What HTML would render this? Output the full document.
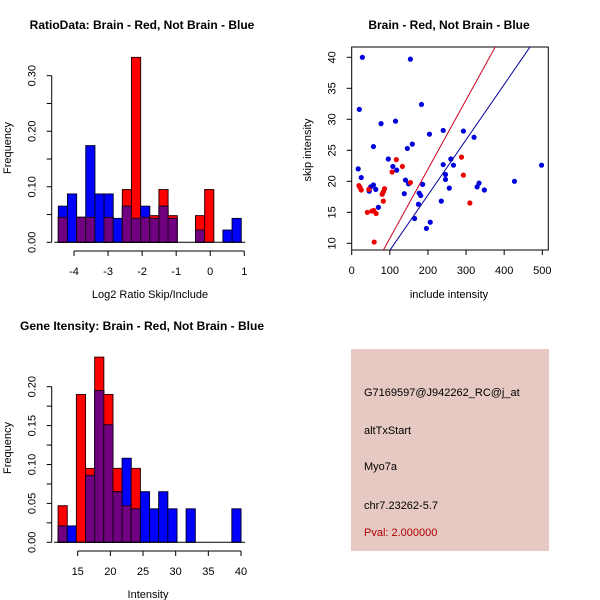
<!DOCTYPE html>
<html><head><meta charset="utf-8"><style>
body{margin:0;background:#fff;width:600px;height:600px;overflow:hidden}
svg{font-family:"Liberation Sans",sans-serif;display:block}
</style></head><body>
<svg id="s" width="600" height="600" viewBox="0 0 600 600">
<rect x="351" y="349" width="198" height="202" fill="#e6c9c3"/>
<g font-size="11">
<text x="364" y="396">G7169597@J942262_RC@j_at</text>
<text x="364" y="434">altTxStart</text>
<text x="364" y="470">Myo7a</text>
<text x="364" y="509">chr7.23262-5.7</text>
<text x="364" y="536" fill="#b00000">Pval: 2.000000</text>
</g>
</svg>
<script>
// Ratio histogram data
const ratioStart=-4.46, ratioWidth=0.2685;
const ratioRed=[0.045,0,0.045,0.045,0,0.045,0,0.095,0.333,0.045,0.048,0.095,0.048,0,0,0.048,0.095,0,0,0];
const ratioBlue=[0.065,0.087,0.045,0.174,0.087,0.087,0.043,0.065,0.043,0.065,0.043,0.065,0.043,0,0,0.022,0,0,0.022,0.043];
const ratioXTicks=[-4,-3,-2,-1,0,1];
const ratioYTicks=["0.00","0.10","0.20","0.30"];
// Intensity histogram data
const intStart=12, intWidth=1.4;
const intRed=[0.047,0,0.19,0.095,0.238,0.19,0.095,0.047,0.095,0,0,0,0,0,0,0,0,0,0,0];
const intBlue=[0.021,0.021,0,0.086,0.195,0.151,0.065,0.108,0.043,0.065,0.043,0.065,0.043,0,0.043,0,0,0,0,0.043];
const intXTicks=[15,20,25,30,35,40];
const intYTicks=["0.00","0.05","0.10","0.15","0.20"];
// Scatter data
const blueX=[28,154,20,183,77,115,240,293,204,321,57,159,146,96,260,17,108,118,240,267,498,25,141,246,246,427,149,186,334,329,256,348,57,50,63,46,138,177,181,235,175,70,165,206,196];
const blueY=[40,39.7,31.6,32.4,29.3,29.7,28.2,28.1,27.6,27.1,25.6,26,25.3,23.6,23.6,22,22.4,21.8,22.7,22.6,22.6,20.6,20.2,21.1,20.3,20,19.6,19.5,19.7,19.1,18.9,18.6,19.4,19.1,18.7,18.4,18,18.1,17.7,16.8,16.3,15.8,14,13.4,12.4];
const redX=[19,22,25,45,86,83,80,83,117,133,106,154,288,293,310,41,53,58,64,59];
const redY=[19.3,19,18.6,18.7,18.8,18.3,17.9,16.8,23.5,22.4,21.5,19.8,23.9,21,16.5,15,15.2,15.3,14.8,10.2];
const redLine=[-0.36,0.1116];
const blueLine=[-0.06,0.0892];
const scXTicks=[0,100,200,300,400,500];
const scYTicks=[10,15,20,25,30,35,40];

const S=document.getElementById('s'),NS='http://www.w3.org/2000/svg';
function mk(t,a,txt){const e=document.createElementNS(NS,t);for(const k in a)e.setAttribute(k,a[k]);if(txt!==undefined)e.textContent=txt;S.appendChild(e);return e;}
function title(x,y,t){const e=mk('text',{x:x,y:y,'font-size':12,'font-weight':'bold','text-anchor':'middle'},t);

}
function label(x,y,t,rot){const e=mk('text',{x:x,y:y,'font-size':11,'text-anchor':'middle',transform:rot?`rotate(-90 ${x} ${y})`:''},t);

}

function hist(start,w,red,blue,xs,ys,yMax,yTop,yBot,xa,xb,xvA,xvB,yAxisX,xAxisY){
  const X=v=>xa+(v-xvA)*(xb-xa)/(xvB-xvA);
  const Y=v=>yBot-v*(yBot-yTop)/yMax;
  for(let i=0;i<red.length;i++){
    const x0=X(start+i*w),x1=X(start+(i+1)*w),r=red[i],b=blue[i];
    if(r>0){const e=mk('rect',{x:x0,y:Y(r),width:x1-x0,height:Y(0)-Y(r),fill:'#ff0000',stroke:'#300','stroke-width':1});
      
      }
    if(b>0){const e=mk('rect',{x:x0,y:Y(b),width:x1-x0,height:Y(0)-Y(b),fill:'#0000ff',stroke:'#000030','stroke-width':1});
      
      }
    const m=Math.min(r,b);
    if(m>0){const e=mk('rect',{x:x0,y:Y(m),width:x1-x0,height:Y(0)-Y(m),fill:'#700080',stroke:'#200020','stroke-width':1});
      
      }
  }
  const base=mk('line',{x1:X(start)-4,x2:X(start+red.length*w)+4,y1:Y(0),y2:Y(0),stroke:'#000'});
  
  
  const ax=mk('line',{x1:X(xs[0]),x2:X(xs[xs.length-1]),y1:xAxisY,y2:xAxisY,stroke:'#000'});
  
  
  xs.forEach(v=>{mk('line',{x1:X(v),x2:X(v),y1:xAxisY,y2:xAxisY+5,stroke:'#000'});
    const t=mk('text',{x:X(v),y:xAxisY+24,'font-size':11,'text-anchor':'middle'},String(v));
    
    });
  const ay=mk('line',{x1:yAxisX,x2:yAxisX,y1:Y(0),y2:Y(parseFloat(ys[ys.length-1])),stroke:'#000'});
  
  
  ys.forEach(s=>{const v=parseFloat(s),y=Y(v);mk('line',{x1:yAxisX-5,x2:yAxisX,y1:y,y2:y,stroke:'#000'});
    const t=mk('text',{x:yAxisX-16,y:y,'font-size':11,'text-anchor':'middle',transform:`rotate(-90 ${yAxisX-16} ${y})`},s);
    
    });
  for(let i=0;i<ys.length-1;i++){const v=(parseFloat(ys[i])+parseFloat(ys[i+1]))/2;mk('line',{x1:yAxisX-5,x2:yAxisX,y1:Y(v),y2:Y(v),stroke:'#000'});}
}
title(142,29,'RatioData: Brain - Red, Not Brain - Blue');
hist(ratioStart,ratioWidth,ratioRed,ratioBlue,ratioXTicks,ratioYTicks,0.30,75.7,242.3,74,244.3,-4,1,51.7,251);
label(150,298,'Log2 Ratio Skip/Include');
label(11,148,'Frequency',true);

title(142,330,'Gene Itensity: Brain - Red, Not Brain - Blue');
hist(intStart,intWidth,intRed,intBlue,intXTicks,intYTicks,0.20,386.7,542.3,77.7,241,15,40,51.7,551);
label(148,598,'Intensity');
label(11,448,'Frequency',true);

// scatter
title(449,29,'Brain - Red, Not Brain - Blue');
const bx0=351.7,bx1=548.3,by0=47,by1=250;
const SX=v=>351.7+v*(542.3-351.7)/500, SY=v=>243.3-(v-10)*(243.3-57.3)/30;
const box=mk('rect',{x:bx0,y:by0,width:bx1-bx0,height:by1-by0,fill:'none',stroke:'#000'});


const cp=mk('clipPath',{id:'cp'});
const cr=document.createElementNS(NS,'rect');cp.appendChild(cr);
cr.setAttribute('x',bx0);cr.setAttribute('y',by0);cr.setAttribute('width',bx1-bx0);cr.setAttribute('height',by1-by0);
blueX.forEach((v,i)=>{const c=mk('circle',{cx:SX(v),cy:SY(blueY[i]),r:2.6,fill:'#0000dd'});
  
  });
redX.forEach((v,i)=>{const c=mk('circle',{cx:SX(v),cy:SY(redY[i]),r:2.6,fill:'#ee0000'});
  
  });
[[redLine,'#cc0022','fit-line-brain'],[blueLine,'#000099','fit-line-not-brain']].forEach(([l,c,n])=>{
  const e=mk('line',{x1:SX(0),y1:SY(l[0]),x2:SX(600),y2:SY(l[0]+l[1]*600),stroke:c,'stroke-width':1,'clip-path':'url(#cp)'});
  
  });
scXTicks.forEach(v=>{mk('line',{x1:SX(v),x2:SX(v),y1:by1,y2:by1+5,stroke:'#000'});
  const t=mk('text',{x:SX(v),y:by1+24,'font-size':11,'text-anchor':'middle'},v);
  
  });
scYTicks.forEach(v=>{const y=SY(v);mk('line',{x1:bx0-5,x2:bx0,y1:y,y2:y,stroke:'#000'});
  const t=mk('text',{x:bx0-16,y:y,'font-size':11,'text-anchor':'middle',transform:`rotate(-90 ${bx0-16} ${y})`},v);
  
  });
label(449,298,'include intensity');
label(311,150,'skip intensity',true);
</script>
</body></html>
